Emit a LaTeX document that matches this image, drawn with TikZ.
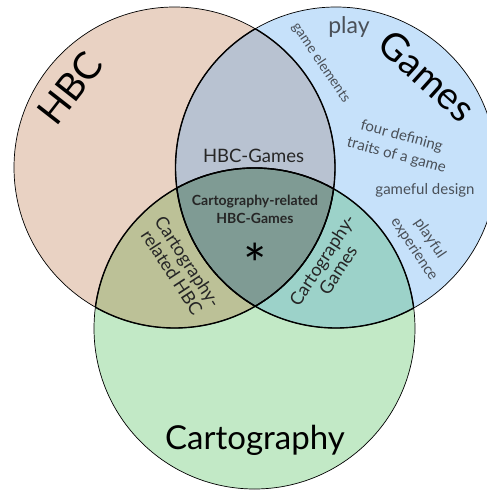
\documentclass[tikz,border=0pt]{standalone}
\usepackage{fontspec}
\setmainfont{Lato}
\definecolor{hbcC}{HTML}{E9D2C3}
\definecolor{gamC}{HTML}{C6E1FA}
\definecolor{carC}{HTML}{C2E9C6}
\definecolor{hgC}{HTML}{B8C2D1}
\definecolor{hcC}{HTML}{BCC197}
\definecolor{gcC}{HTML}{9CD2C9}
\definecolor{allC}{HTML}{7F9B94}
\definecolor{softT}{HTML}{4A5058}
\tikzset{
  outer/.style={draw=black, line width=0.7pt},
  inner/.style={draw=black, line width=1.4pt},
  big/.style={font=\fontsize{38}{40}\selectfont, text=black, inner sep=0pt},
  small/.style={font=\fontsize{14}{16}\selectfont, text=softT, inner sep=0pt, align=center},
  mid/.style={font=\fontsize{17}{19}\selectfont, text=black!85, inner sep=0pt, align=center},
}
\begin{document}
\begin{tikzpicture}[x=1pt,y=-1pt]
\useasboundingbox (0,0) rectangle (487,491);
\coordinate (H) at (174.5,167.5);
\coordinate (G) at (336,167.5);
\coordinate (C) at (254.5,328.5);
\def\R{160.5pt}
% base fills
\fill[hbcC] (H) circle (\R);
\fill[gamC] (G) circle (\R);
\fill[carC] (C) circle (\R);
% pairwise
\begin{scope}\clip (H) circle (\R); \fill[hgC] (G) circle (\R);\end{scope}
\begin{scope}\clip (H) circle (\R); \fill[hcC] (C) circle (\R);\end{scope}
\begin{scope}\clip (G) circle (\R); \fill[gcC] (C) circle (\R);\end{scope}
\begin{scope}\clip (H) circle (\R); \clip (G) circle (\R); \fill[allC] (C) circle (\R);\end{scope}
% outlines
\draw[outer] (H) circle (\R);
\draw[outer] (G) circle (\R);
\draw[outer] (C) circle (\R);
\begin{scope}\clip (G) circle (\R); \draw[inner] (H) circle (\R);\end{scope}
\begin{scope}\clip (C) circle (\R); \draw[inner] (H) circle (\R);\end{scope}
\begin{scope}\clip (H) circle (\R); \draw[inner] (G) circle (\R);\end{scope}
\begin{scope}\clip (C) circle (\R); \draw[inner] (G) circle (\R);\end{scope}
\begin{scope}\clip (H) circle (\R); \draw[inner] (C) circle (\R);\end{scope}
\begin{scope}\clip (G) circle (\R); \draw[inner] (C) circle (\R);\end{scope}
% labels
\node[big, rotate=52] (lhbc) at (70,88) {HBC};
\node[big, rotate=-42] (lgames) at (427,76) {Games};
\node[big, font=\fontsize{33}{36}\selectfont] (lcart) at (255,440) {Cartography};
\node[font=\fontsize{23}{25}\selectfont, text=softT, inner sep=0pt] (lplay) at (349,27) {play};
\node[small, rotate=-56] (lge) at (321,63) {game elements};
\node[small, font=\fontsize{15}{20}\selectfont, rotate=-15] (lfour) at (399,146) {four defining\\traits of a game};
\node[small, font=\fontsize{15}{17}\selectfont] (lgd) at (425,190) {gameful design};
\node[small, font=\fontsize{15}{19}\selectfont, rotate=-56] (lpe) at (422,244) {playful\\experience};
\node[mid, font=\fontsize{18.5}{20}\selectfont] (lhg) at (253.5,156) {HBC-Games};
\node[mid, font=\bfseries\fontsize{14}{18}\selectfont] (lcrhg) at (255,209) {Cartography-related\\HBC-Games};
\node[font=\fontsize{55}{55}\selectfont, inner sep=0pt, anchor=base] (star) at (255,284) {*};
\node[mid, font=\fontsize{18}{19}\selectfont, rotate=-57] (lcrh) at (180,267) {Cartography-\\related HBC};
\node[mid, font=\fontsize{18}{19}\selectfont, rotate=57] (lcg) at (330,265) {Cartography-\\Games};
\end{tikzpicture}
\end{document}
